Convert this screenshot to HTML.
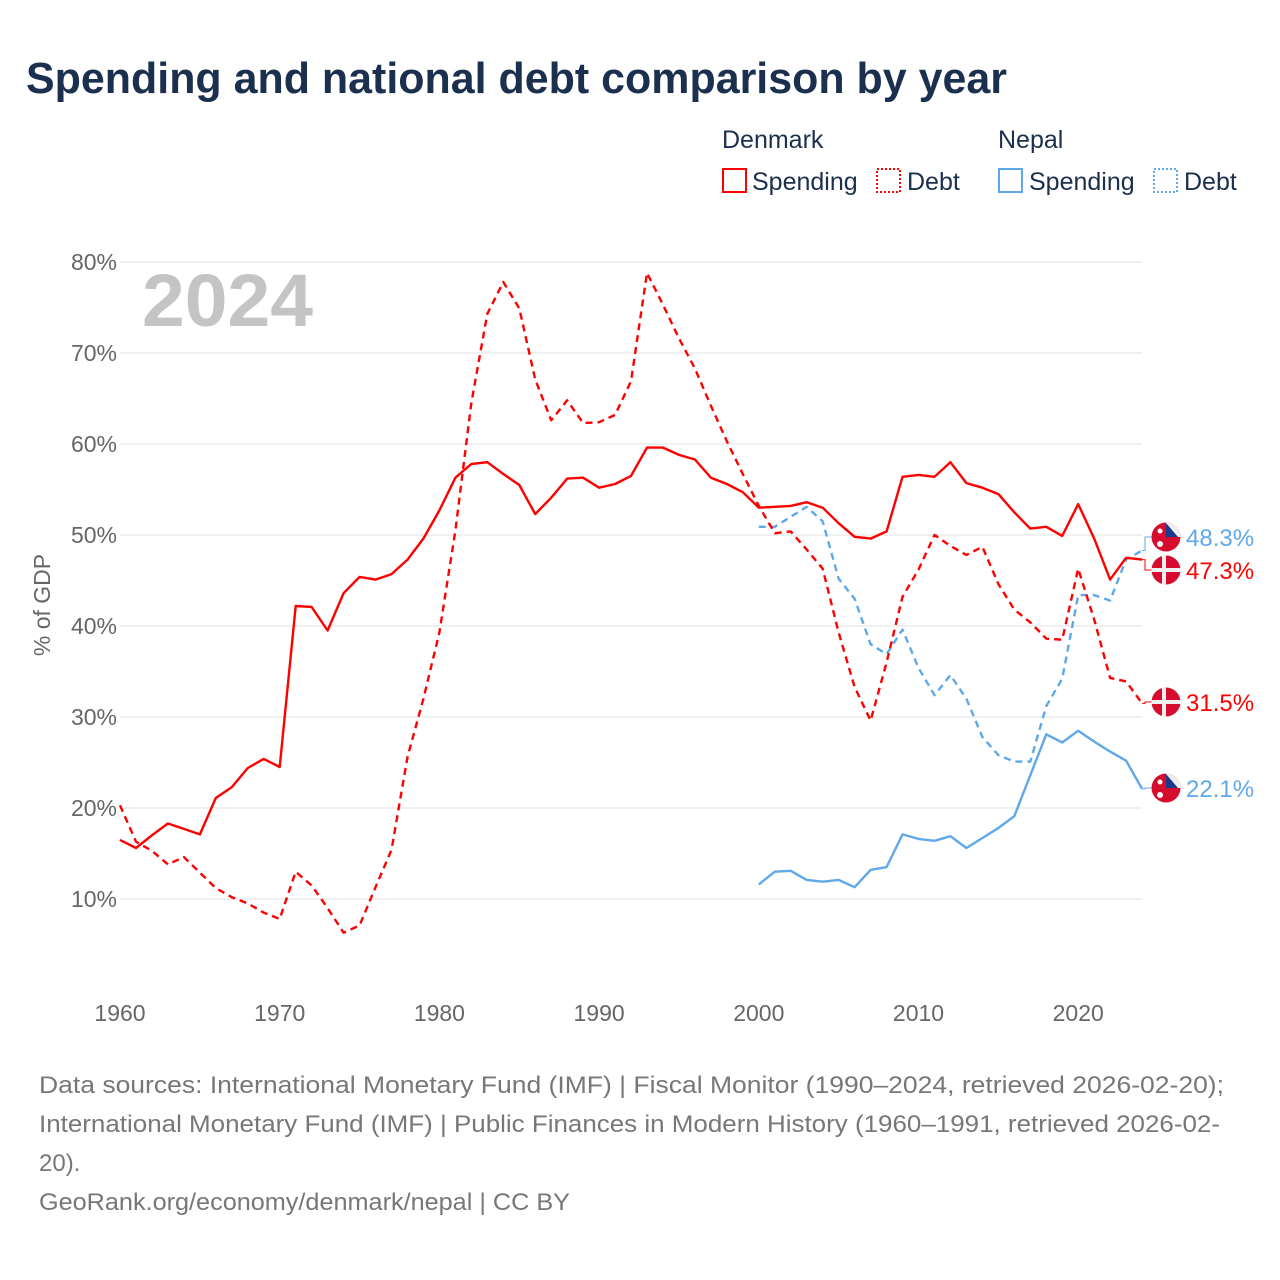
<!DOCTYPE html>
<html><head><meta charset="utf-8"><style>
body{margin:0;background:#fff;font-family:"Liberation Sans",sans-serif;}
svg{display:block}
</style></head><body>
<svg width="1280" height="1280" viewBox="0 0 1280 1280">
<text x="26" y="93" font-size="44" font-weight="bold" fill="#1b2f4e" textLength="981" lengthAdjust="spacingAndGlyphs">Spending and national debt comparison by year</text>
<g font-size="25" fill="#1b2f4e">
<text x="722" y="148">Denmark</text>
<text x="998" y="148">Nepal</text>
<g><rect x="723" y="169" width="23" height="23" fill="none" stroke="#f00" stroke-width="2"/><text x="752" y="190">Spending</text></g>
<g><rect x="877" y="169" width="23" height="23" fill="none" stroke="#f00" stroke-width="2" stroke-dasharray="2,2"/><text x="907" y="190">Debt</text></g>
<g><rect x="999" y="169" width="23" height="23" fill="none" stroke="#5fa8ea" stroke-width="2"/><text x="1029" y="190">Spending</text></g>
<g><rect x="1154" y="169" width="23" height="23" fill="none" stroke="#5fa8ea" stroke-width="2" stroke-dasharray="2,2"/><text x="1184" y="190">Debt</text></g>
</g>
<g id="grid"></g>
<text x="142" y="326" font-size="74" font-weight="bold" fill="#c4c4c4" textLength="171" lengthAdjust="spacingAndGlyphs">2024</text>
<text transform="translate(50,605) rotate(-90)" text-anchor="middle" font-size="23" fill="#666">% of GDP</text>
<g id="series"></g>
<g id="ends"></g>
<g font-size="24" fill="#777">
<text x="39" y="1093" textLength="1185" lengthAdjust="spacingAndGlyphs">Data sources: International Monetary Fund (IMF) | Fiscal Monitor (1990–2024, retrieved 2026-02-20);</text>
<text x="39" y="1132" textLength="1181" lengthAdjust="spacingAndGlyphs">International Monetary Fund (IMF) | Public Finances in Modern History (1960–1991, retrieved 2026-02-</text>
<text x="39" y="1171">20).</text>
<text x="39" y="1210" textLength="531" lengthAdjust="spacingAndGlyphs">GeoRank.org/economy/denmark/nepal | CC BY</text>
</g>
</svg>
<script>
const yTicks=[10,20,30,40,50,60,70,80];
const xTicks=[1960,1970,1980,1990,2000,2010,2020];
const dkYears0=1960;
const dkSpending=[16.5,15.6,17,18.3,17.7,17.1,21.1,22.3,24.4,25.4,24.5,42.2,42.1,39.5,43.6,45.4,45.1,45.7,47.3,49.6,52.7,56.3,57.8,58,56.7,55.5,52.3,54.1,56.2,56.3,55.2,55.6,56.5,59.6,59.6,58.8,58.3,56.3,55.6,54.7,53,53.1,53.2,53.6,53,51.3,49.8,49.6,50.4,56.4,56.6,56.4,58,55.7,55.2,54.5,52.5,50.7,50.9,49.9,53.4,49.6,45.1,47.5,47.3];
const dkDebt=[20.3,16.3,15.3,13.8,14.6,12.9,11.2,10.2,9.5,8.5,7.8,13,11.5,9,6.3,7.1,11.3,15.4,25.6,32,39.3,50.5,64.5,74.3,77.8,74.9,67.1,62.6,64.8,62.3,62.4,63.2,66.9,78.8,75.3,71.6,68.3,64.2,60.3,56.7,53.2,50.2,50.4,48.4,46.3,39.3,33.3,29.6,36,43.2,46.2,50,48.8,47.8,48.7,44.6,41.8,40.4,38.6,38.5,46.3,40.7,34.3,33.9,31.5];
const npYears0=2000;
const npSpending=[11.6,13,13.1,12.1,11.9,12.1,11.3,13.2,13.5,17.1,16.6,16.4,16.9,15.6,16.7,17.8,19.1,23.6,28.1,27.2,28.5,27.3,26.2,25.2,22.1];
const npDebt=[50.9,50.9,52,53.1,51.5,45.2,43,38,36.9,39.6,35.4,32.4,34.6,32,27.8,25.8,25.1,25.1,31.2,34.2,43.4,43.4,42.8,47.3,48.3];
const NS='http://www.w3.org/2000/svg';
const X=yr=>120+(yr-1960)*15.97;
const Y=v=>990-v*9.1;
function mk(tag,attrs,parent){const e=document.createElementNS(NS,tag);for(const k in attrs)e.setAttribute(k,attrs[k]);parent.appendChild(e);return e;}
const grid=document.getElementById('grid');
yTicks.forEach(t=>{
  const l=mk('line',{x1:120,x2:1142,y1:Y(t),y2:Y(t),stroke:'#e6e6e6','stroke-width':1.2},grid);
  
  
  const tx=mk('text',{x:117,y:Y(t)+8,'text-anchor':'end','font-size':23,fill:'#666'},grid);
  tx.textContent=t+'%';
  
  
});
xTicks.forEach(t=>{
  const tx=mk('text',{x:X(t),y:1021,'text-anchor':'middle','font-size':23,fill:'#666'},grid);
  tx.textContent=t;
  
  
});
const series=document.getElementById('series');
function line(data,y0,color,dash,name){
  const pts=data.map((v,i)=>X(y0+i).toFixed(1)+','+Y(v).toFixed(1)).join(' ');
  const p=mk('polyline',{points:pts,fill:'none',stroke:color,'stroke-width':2.4,'stroke-linejoin':'round'},series);
  if(dash)p.setAttribute('stroke-dasharray','7,5');
  
  
}
line(npDebt,npYears0,'#5fa8ea',true,'nepal-debt-line');
line(npSpending,npYears0,'#5fa8ea',false,'nepal-spending-line');
line(dkDebt,dkYears0,'#f00',true,'denmark-debt-line');
line(dkSpending,dkYears0,'#f00',false,'denmark-spending-line');
const ends=document.getElementById('ends');
const labels=[
 {v:npDebt[npDebt.length-1],ly:537,c:'#5fa8ea',f:'np',n:'nepal-debt'},
 {v:dkSpending[dkSpending.length-1],ly:570,c:'#f00',f:'dk',n:'denmark-spending'},
 {v:dkDebt[dkDebt.length-1],ly:702,c:'#f00',f:'dk',n:'denmark-debt'},
 {v:npSpending[npSpending.length-1],ly:788,c:'#5fa8ea',f:'np',n:'nepal-spending'}];
labels.forEach(o=>{
  const g=mk('g',{},ends);
  
  
  mk('polyline',{points:`${X(2024)},${Y(o.v)} 1145,${Y(o.v)} 1145,${o.ly} 1152,${o.ly}`,fill:'none',stroke:o.c,'stroke-width':1},g);
  mk('circle',{cx:1166,cy:o.ly,r:14.5,fill:'#d50c2e'},g);
  if(o.f==='dk'){
    mk('rect',{x:1162,y:o.ly-14.5,width:4,height:29,fill:'#eee'},g);
    mk('rect',{x:1151.5,y:o.ly-2,width:29,height:4,fill:'#eee'},g);
  }else{
    mk('path',{d:`M1166 ${o.ly-14.5} A14.5 14.5 0 0 1 1180.5 ${o.ly} L1166 ${o.ly} Z`,fill:'#eee'},g);
    mk('path',{d:`M1166 ${o.ly-14} L1178 ${o.ly} L1166 ${o.ly} Z`,fill:'#1b3a8c'},g);
    mk('circle',{cx:1160,cy:o.ly-6,r:2.5,fill:'#fff'},g);
    mk('circle',{cx:1160,cy:o.ly+7,r:3,fill:'#fff'},g);
  }
  const t=mk('text',{x:1186,y:o.ly+9,'font-size':24,fill:o.c},g);
  t.textContent=o.v.toFixed(1)+'%';
});
</script>
</body></html>
